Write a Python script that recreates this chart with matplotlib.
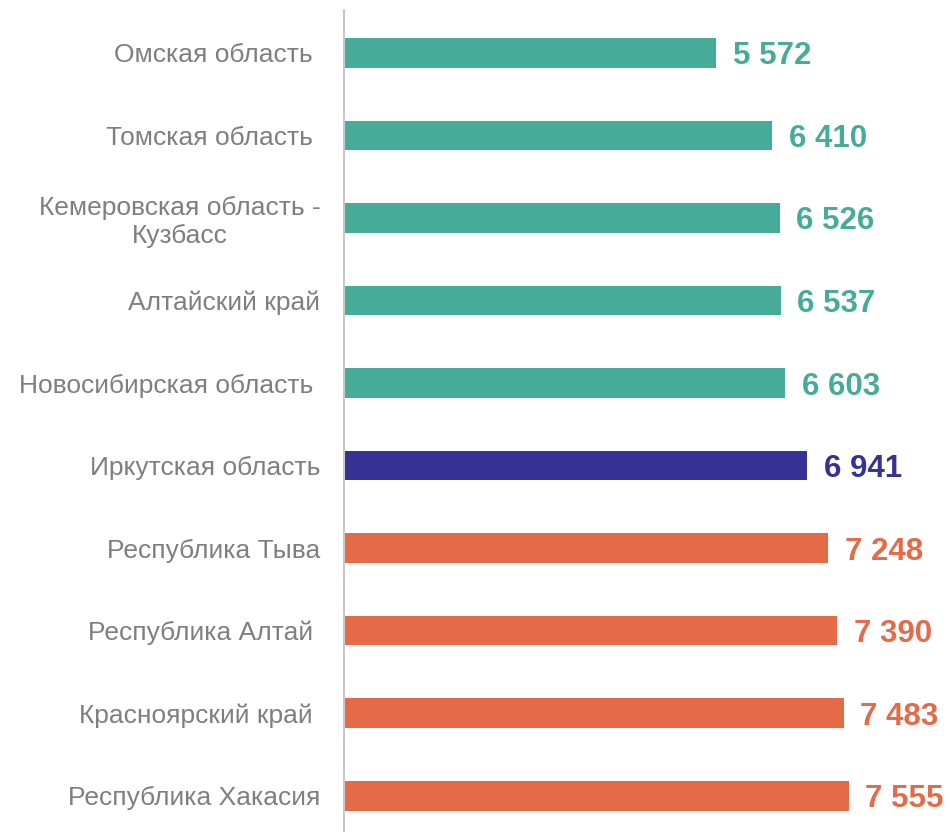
import matplotlib.pyplot as plt

regions = ["Омская область ", "Томская область ", "Кемеровская область -\nКузбасс",
           "Алтайский край", "Новосибирская область ", "Иркутская область",
           "Республика Тыва", "Республика Алтай ", "Красноярский край ",
           "Республика Хакасия"]
values = [5572, 6410, 6526, 6537, 6603, 6941, 7248, 7390, 7483, 7555]
value_labels = ["5 572", "6 410", "6 526", "6 537", "6 603", "6 941",
                "7 248", "7 390", "7 483", "7 555"]

teal = "#46AB98"
navy = "#363194"
orange = "#E46A48"
colors = [teal] * 5 + [navy] + [orange] * 4

plt.rcParams['font.family'] = ['Liberation Sans', 'DejaVu Sans']

fig = plt.figure(figsize=(9.49, 8.32), dpi=100)
ax = fig.add_axes([344 / 949, 0, 605 / 949, 822 / 832])

pos = list(range(len(values)))
ax.barh(pos, values, height=0.36, color=colors)

for p, v, lab, c in zip(pos, values, value_labels, colors):
    ax.text(v + 250, p, lab, color=c, fontsize=22.5, fontweight='bold',
            va='center_baseline', ha='left')

ax.set_yticks(pos)
ax.set_yticklabels(regions, fontsize=19, color='#7f7f7f', multialignment='center')
ax.tick_params(axis='y', length=0, pad=17)
ax.set_xticks([])
ax.set_xlim(0, 9060)
ax.set_ylim(9.44, -0.52)

for s in ['top', 'right', 'bottom']:
    ax.spines[s].set_visible(False)
ax.spines['left'].set_color('#c8c8c8')
ax.spines['left'].set_linewidth(1.5)

fig.savefig("out.png", dpi=100)
